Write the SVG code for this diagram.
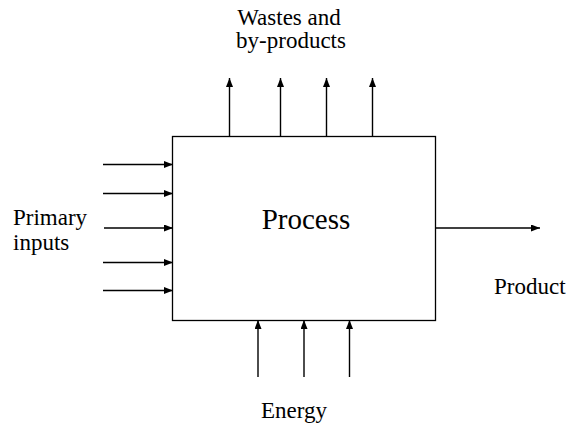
<svg xmlns="http://www.w3.org/2000/svg" width="566" height="428" viewBox="0 0 566 428">
<defs>
<marker id="ah" markerWidth="9" markerHeight="7" refX="9" refY="3.5" orient="auto" markerUnits="userSpaceOnUse">
<path d="M0,0 L9,3.5 L0,7 Z" fill="#000"/>
</marker>
<style>
.ln{stroke:#000;stroke-width:1.4;fill:none;marker-end:url(#ah)}
</style>
</defs>
<rect width="566" height="428" fill="#fff"/>
<g font-family="Liberation Serif, Times New Roman, serif" font-size="23" fill="#000">
<g id="process">
<rect x="172.5" y="136.5" width="263" height="184" fill="#fff" stroke="#000" stroke-width="1.3"/>
<text font-size="29" x="306" y="229" text-anchor="middle">Process</text>
</g>
<g id="wastes">
<text x="289" y="25" text-anchor="middle">Wastes and</text>
<text x="291" y="48" text-anchor="middle">by-products</text>
</g>
<g id="primary-inputs">
<text x="13" y="225">Primary</text>
<text x="13" y="250">inputs</text>
</g>
<g id="product">
<text x="494" y="294">Product</text>
</g>
<g id="energy">
<text x="294" y="418" text-anchor="middle">Energy</text>
</g>
</g>
<g id="connectors">
<line class="ln" x1="229.5" y1="136" x2="229.5" y2="78"/>
<line class="ln" x1="280.5" y1="136" x2="280.5" y2="78"/>
<line class="ln" x1="326.5" y1="136" x2="326.5" y2="78"/>
<line class="ln" x1="372.5" y1="136" x2="372.5" y2="78"/>
<line class="ln" x1="103" y1="164.5" x2="173" y2="164.5"/>
<line class="ln" x1="103" y1="193.5" x2="173" y2="193.5"/>
<line class="ln" x1="104" y1="228" x2="173" y2="228"/>
<line class="ln" x1="103" y1="262.5" x2="173" y2="262.5"/>
<line class="ln" x1="103" y1="290.5" x2="173" y2="290.5"/>
<line class="ln" x1="435" y1="228" x2="540" y2="228"/>
<line class="ln" x1="258" y1="377" x2="258" y2="320"/>
<line class="ln" x1="304" y1="377" x2="304" y2="320"/>
<line class="ln" x1="349.5" y1="377" x2="349.5" y2="320"/>
</g>
</svg>
